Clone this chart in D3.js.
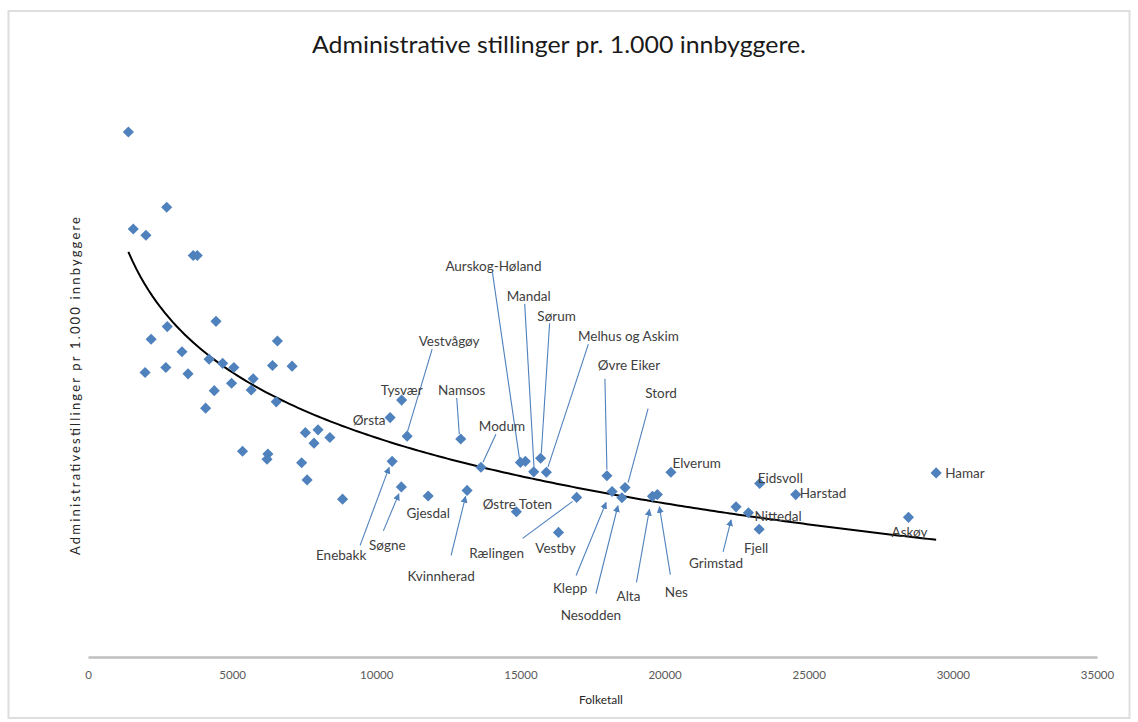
<!DOCTYPE html>
<html>
<head>
<meta charset="utf-8">
<script src="https://cdn.jsdelivr.net/npm/d3@7"></script>
<style>
  html, body { margin: 0; padding: 0; background: #fff; }
  svg { display: block; font-family: Lato, "Open Sans", sans-serif; }
</style>
</head>
<body>
<svg id="chart" width="1138" height="722"></svg>
<script>
// ---- data ----
const populations = [1400, 2730, 1570, 2010, 3650, 3790, 4440, 2750, 2190, 6570,
  3260, 4200, 4670, 5060, 1980, 2700, 3470, 6400, 7080, 5730,
  5660, 4980, 4380, 4080, 6530, 10880, 10480, 11070, 7540, 7980,
  7840, 8390, 5360, 6240, 6210, 7410, 7600, 10550, 10870, 11800,
  8830, 12930, 13630, 13150, 14860, 16320, 16950, 15000, 15170, 15700,
  15460, 15900, 18000, 18180, 18630, 18520, 19580, 19750, 20220, 23300,
  24550, 22480, 22910, 23280, 28460, 29420];
const values = [15.0, 12.85, 12.23, 12.05, 11.47, 11.47, 9.59, 9.44, 9.08, 9.03,
  8.72, 8.51, 8.39, 8.27, 8.13, 8.27, 8.09, 8.33, 8.31, 7.95,
  7.63, 7.82, 7.61, 7.11, 7.29, 7.34, 6.84, 6.31, 6.41, 6.49,
  6.11, 6.27, 5.88, 5.80, 5.65, 5.55, 5.06, 5.59, 4.86, 4.60,
  4.51, 6.23, 5.42, 4.76, 4.15, 3.56, 4.56, 5.56, 5.59, 5.68,
  5.29, 5.28, 5.18, 4.73, 4.84, 4.55, 4.59, 4.64, 5.28, 4.96,
  4.64, 4.29, 4.12, 3.65, 3.99, 5.26];
const names = ["", "", "", "", "", "", "", "", "", "",
  "", "", "", "", "", "", "", "", "", "",
  "", "", "", "", "", "Tysvær", "Ørsta", "Vestvågøy", "", "",
  "", "", "", "", "", "", "", "Enebakk", "Søgne", "Gjesdal",
  "", "Namsos", "Modum", "Kvinnherad", "Østre Toten", "Vestby", "Rælingen", "Aurskog-Høland", "", "Sørum",
  "Mandal", "Melhus og Askim", "Øvre Eiker", "Klepp", "Stord", "Nesodden", "Alta", "Nes", "Elverum", "Eidsvoll",
  "Harstad", "Grimstad", "Nittedal", "Fjell", "Askøy", "Hamar"];
const xTicks = [0, 5000, 10000, 15000, 20000, 25000, 30000, 35000];

const titleText = "Administrative stillinger pr. 1.000 innbyggere.";
const yTitle = "Administrativestillinger pr 1.000 innbyggere";
const xTitle = "Folketall";

// ---- label layout (pixel offsets from each point) ----
const labelLayout = {
  "Tysvær":        {dx: 0,   dy: -10, anchor: "middle"},
  "Ørsta":         {dx: -21, dy: 3,   anchor: "middle"},
  "Vestvågøy":     {dx: 42,  dy: -95, anchor: "middle", line: [25, -87, 0.5, -5]},
  "Namsos":        {dx: 1,   dy: -49, anchor: "middle", line: [-4, -41, -1.5, -5]},
  "Modum":         {dx: 21,  dy: -41, anchor: "middle", line: [15, -33, 2, -5]},
  "Aurskog-Høland":{dx: -27, dy: -196,anchor: "middle", line: [-28, -190, -1, -4]},
  "Mandal":        {dx: -5,  dy: -176,anchor: "middle", line: [-9, -168, 0.3, -5]},
  "Sørum":         {dx: 16,  dy: -142,anchor: "middle", line: [9, -135, 0.7, -5]},
  "Melhus og Askim":{dx: 82, dy: -136,anchor: "middle", line: [42, -128, 1.6, -5]},
  "Øvre Eiker":    {dx: 22,  dy: -110,anchor: "middle", line: [-2, -97, 0, -6]},
  "Stord":         {dx: 36,  dy: -94, anchor: "middle", line: [23, -79, 3, -5]},
  "Enebakk":       {dx: -51, dy: 94,  anchor: "middle", line: [-32, 84, -3, 6], arrow: true},
  "Søgne":         {dx: -14, dy: 58,  anchor: "middle", line: [-18, 44, -2.5, 7], arrow: true},
  "Gjesdal":       {dx: 0,   dy: 17,  anchor: "middle"},
  "Kvinnherad":    {dx: -26, dy: 86,  anchor: "middle", line: [-16, 65, -1.5, 6], arrow: true},
  "Østre Toten":   {dx: 1,   dy: -7,  anchor: "middle"},
  "Vestby":        {dx: -3,  dy: 16,  anchor: "middle"},
  "Rælingen":      {dx: -80, dy: 56,  anchor: "middle", line: [-54, 41, -4, 4]},
  "Klepp":         {dx: -42, dy: 97,  anchor: "middle", line: [-36, 84, -6, 11], arrow: true},
  "Nesodden":      {dx: -31, dy: 118, anchor: "middle", line: [-26, 96, -4, 8], arrow: true},
  "Alta":          {dx: -24, dy: 100, anchor: "middle", line: [-16, 86, -3, 13], arrow: true},
  "Nes":           {dx: 19,  dy: 98,  anchor: "middle", line: [13, 80, 2, 12], arrow: true},
  "Elverum":       {dx: 1.5, dy: -9,  anchor: "start"},
  "Eidsvoll":      {dx: -2,  dy: -5,  anchor: "start"},
  "Harstad":       {dx: 4,   dy: -1,  anchor: "start"},
  "Nittedal":      {dx: 6,   dy: 3,   anchor: "start"},
  "Fjell":         {dx: -3,  dy: 19,  anchor: "middle"},
  "Grimstad":      {dx: -20, dy: 56,  anchor: "middle", line: [-13, 45, -5, 13], arrow: true},
  "Askøy":         {dx: 1,   dy: 15,  anchor: "middle"},
  "Hamar":         {dx: 9,   dy: 0,   anchor: "start"}
};

// ---- drawing ----
const svg = d3.select("#chart");
const markColor = "#4F81BD";

svg.append("rect").attr("x", 8.5).attr("y", 11).attr("width", 1121).attr("height", 707)
  .attr("fill", "#fff").attr("stroke", "#dedede").attr("stroke-width", 2);

const x = d3.scaleLinear().domain([0, 35000]).range([88, 1097]);
const y = d3.scaleLinear().domain([0, 16]).range([657, 97]);

// title
svg.append("text").attr("x", 559).attr("y", 53).attr("text-anchor", "middle")
  .attr("font-size", 24).attr("fill", "#1a1a1a")
  .attr("textLength", 494).attr("lengthAdjust", "spacingAndGlyphs").text(titleText);

// x axis
const xAxis = d3.axisBottom(x).tickValues(xTicks).tickSize(0).tickPadding(14)
  .tickFormat(d => String(d));
const gx = svg.append("g").attr("transform", `translate(0,${y(0)})`).call(xAxis);
gx.select(".domain").attr("stroke", "#bfbfbf").attr("stroke-width", 2.5);
gx.selectAll("text").attr("font-size", 11.5).attr("fill", "#595959")
  .attr("font-family", "Lato, sans-serif");

svg.append("text").attr("x", 601).attr("y", 704).attr("text-anchor", "middle")
  .attr("font-size", 12).attr("fill", "#262626").text(xTitle);

svg.append("text").attr("transform", "translate(80,386) rotate(-90)")
  .attr("text-anchor", "middle").attr("font-size", 13).attr("fill", "#262626")
  .attr("textLength", 338).attr("lengthAdjust", "spacing")
  .text(yTitle);

// logarithmic trend line fitted to the points
const n = populations.length;
const lx = populations.map(v => Math.log(v));
const mx = d3.mean(lx), my = d3.mean(values);
let sxy = 0, sxx = 0;
for (let i = 0; i < n; i++) { sxy += (lx[i] - mx) * (values[i] - my); sxx += (lx[i] - mx) ** 2; }
const b = sxy / sxx, a = my - b * mx;
const [x0, x1] = d3.extent(populations);
const trend = d3.range(0, 201).map(i => { const xv = x0 + (x1 - x0) * i / 200; return [xv, a + b * Math.log(xv)]; });
svg.append("path").datum(trend)
  .attr("d", d3.line().x(d => x(d[0])).y(d => y(d[1])))
  .attr("fill", "none").attr("stroke", "#000").attr("stroke-width", 2);

// arrow marker
svg.append("defs").append("marker").attr("id", "arr")
  .attr("viewBox", "0 0 10 10").attr("refX", 9).attr("refY", 5)
  .attr("markerWidth", 7).attr("markerHeight", 7).attr("orient", "auto-start-reverse")
  .attr("markerUnits", "userSpaceOnUse")
  .append("path").attr("d", "M0,0 L10,5 L0,10 z").attr("fill", markColor);

const pts = populations.map((p, i) => ({p, v: values[i], name: names[i]}));

// leader lines
const labelled = pts.filter(d => d.name && labelLayout[d.name]);
svg.append("g").selectAll("line").data(labelled.filter(d => labelLayout[d.name].line))
  .join("line")
  .attr("x1", d => x(d.p) + labelLayout[d.name].line[0])
  .attr("y1", d => y(d.v) + labelLayout[d.name].line[1])
  .attr("x2", d => x(d.p) + labelLayout[d.name].line[2])
  .attr("y2", d => y(d.v) + labelLayout[d.name].line[3])
  .attr("stroke", markColor).attr("stroke-width", 1.1)
  .attr("marker-end", d => labelLayout[d.name].arrow ? "url(#arr)" : null);

// points
const sym = d3.symbol().type(d3.symbolSquare).size(62);
svg.append("g").selectAll("path").data(pts).join("path")
  .attr("d", sym)
  .attr("transform", d => `translate(${x(d.p)},${y(d.v)}) rotate(45)`)
  .attr("fill", markColor);

// labels
svg.append("g").selectAll("text").data(labelled).join("text")
  .attr("x", d => x(d.p) + labelLayout[d.name].dx)
  .attr("y", d => y(d.v) + labelLayout[d.name].dy)
  .attr("dy", "0.35em")
  .attr("text-anchor", d => labelLayout[d.name].anchor)
  .attr("font-size", 13.5).attr("fill", "#404040")
  .text(d => d.name);
</script>
</body>
</html>
